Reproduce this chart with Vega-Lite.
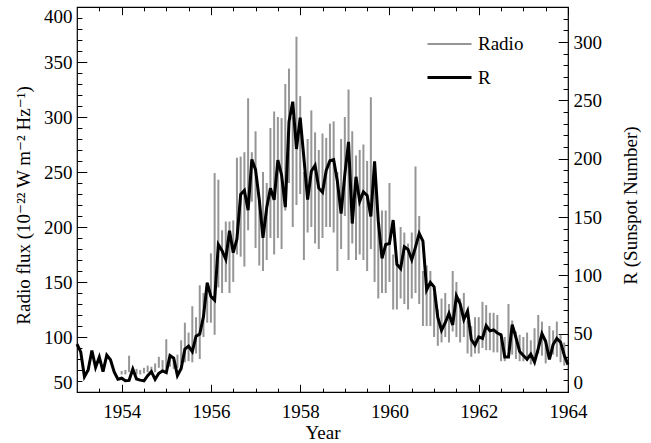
{
  "$schema": "https://vega.github.io/schema/vega-lite/v6.json",
  "width": 491,
  "height": 385,
  "autosize": {"type": "none"},
  "padding": {"left": 77, "top": 7, "right": 83, "bottom": 51},
  "background": "white",
  "config": {
    "view": {"stroke": "#000", "strokeWidth": 1.2},
    "font": "Liberation Serif, DejaVu Serif, serif",
    "axis": {
      "labelFont": "Liberation Serif, DejaVu Serif, serif", "titleFont": "Liberation Serif, DejaVu Serif, serif",
      "labelFontSize": 19, "titleFontSize": 19, "titleFontWeight": "normal",
      "labelColor": "#000", "titleColor": "#000", "tickColor": "#000", "tickWidth": 1,
      "grid": false, "domain": false, "labelFlush": false, "labelOverlap": false
    },
    "legend": {
      "orient": "none", "legendX": 349, "legendY": 14,
      "symbolType": "stroke", "symbolSize": 1936,
      "labelFont": "Liberation Serif, DejaVu Serif, serif", "labelFontSize": 19, "labelColor": "#000",
      "labelOffset": 5, "rowPadding": -8, "padding": 0
    }
  },
  "datasets": {
    "radio": [
      {"t": 1954.0, "lo": 66, "hi": 69}, {"t": 1954.0833, "lo": 66, "hi": 70}, {"t": 1954.1667, "lo": 68, "hi": 83}, {"t": 1954.25, "lo": 67, "hi": 71},
      {"t": 1954.3333, "lo": 66, "hi": 71}, {"t": 1954.4167, "lo": 66, "hi": 70}, {"t": 1954.5, "lo": 67, "hi": 72}, {"t": 1954.5833, "lo": 68, "hi": 74},
      {"t": 1954.6667, "lo": 67, "hi": 73}, {"t": 1954.75, "lo": 68, "hi": 76}, {"t": 1954.8333, "lo": 72, "hi": 82}, {"t": 1954.9167, "lo": 70, "hi": 79},
      {"t": 1955.0, "lo": 72, "hi": 98}, {"t": 1955.0833, "lo": 73, "hi": 84}, {"t": 1955.1667, "lo": 71, "hi": 80}, {"t": 1955.25, "lo": 72, "hi": 84},
      {"t": 1955.3333, "lo": 76, "hi": 97}, {"t": 1955.4167, "lo": 77, "hi": 113}, {"t": 1955.5, "lo": 78, "hi": 104}, {"t": 1955.5833, "lo": 77, "hi": 128},
      {"t": 1955.6667, "lo": 85, "hi": 118}, {"t": 1955.75, "lo": 80, "hi": 147}, {"t": 1955.8333, "lo": 100, "hi": 140}, {"t": 1955.9167, "lo": 113, "hi": 150},
      {"t": 1956.0, "lo": 113, "hi": 176}, {"t": 1956.0833, "lo": 102, "hi": 249}, {"t": 1956.1667, "lo": 145, "hi": 243}, {"t": 1956.25, "lo": 140, "hi": 197},
      {"t": 1956.3333, "lo": 150, "hi": 205}, {"t": 1956.4167, "lo": 140, "hi": 205}, {"t": 1956.5, "lo": 150, "hi": 206}, {"t": 1956.5833, "lo": 175, "hi": 263},
      {"t": 1956.6667, "lo": 173, "hi": 264}, {"t": 1956.75, "lo": 164, "hi": 268}, {"t": 1956.8333, "lo": 197, "hi": 317}, {"t": 1956.9167, "lo": 223, "hi": 268},
      {"t": 1957.0, "lo": 181, "hi": 287}, {"t": 1957.0833, "lo": 165, "hi": 225}, {"t": 1957.1667, "lo": 160, "hi": 250}, {"t": 1957.25, "lo": 170, "hi": 240},
      {"t": 1957.3333, "lo": 190, "hi": 290}, {"t": 1957.4167, "lo": 175, "hi": 305}, {"t": 1957.5, "lo": 190, "hi": 300}, {"t": 1957.5833, "lo": 180, "hi": 299},
      {"t": 1957.6667, "lo": 215, "hi": 330}, {"t": 1957.75, "lo": 240, "hi": 344}, {"t": 1957.8333, "lo": 200, "hi": 300}, {"t": 1957.9167, "lo": 220, "hi": 373},
      {"t": 1958.0, "lo": 230, "hi": 319}, {"t": 1958.0833, "lo": 170, "hi": 250}, {"t": 1958.1667, "lo": 195, "hi": 280}, {"t": 1958.25, "lo": 200, "hi": 306},
      {"t": 1958.3333, "lo": 185, "hi": 286}, {"t": 1958.4167, "lo": 180, "hi": 270}, {"t": 1958.5, "lo": 190, "hi": 285}, {"t": 1958.5833, "lo": 200, "hi": 281},
      {"t": 1958.6667, "lo": 200, "hi": 294}, {"t": 1958.75, "lo": 195, "hi": 296}, {"t": 1958.8333, "lo": 160, "hi": 250}, {"t": 1958.9167, "lo": 180, "hi": 280},
      {"t": 1959.0, "lo": 210, "hi": 300}, {"t": 1959.0833, "lo": 170, "hi": 325}, {"t": 1959.1667, "lo": 185, "hi": 287}, {"t": 1959.25, "lo": 170, "hi": 265},
      {"t": 1959.3333, "lo": 175, "hi": 270}, {"t": 1959.4167, "lo": 170, "hi": 275}, {"t": 1959.5, "lo": 160, "hi": 260}, {"t": 1959.5833, "lo": 180, "hi": 318},
      {"t": 1959.6667, "lo": 150, "hi": 240}, {"t": 1959.75, "lo": 135, "hi": 205}, {"t": 1959.8333, "lo": 140, "hi": 215}, {"t": 1959.9167, "lo": 140, "hi": 215},
      {"t": 1960.0, "lo": 150, "hi": 240}, {"t": 1960.0833, "lo": 125, "hi": 175}, {"t": 1960.1667, "lo": 125, "hi": 170}, {"t": 1960.25, "lo": 135, "hi": 200},
      {"t": 1960.3333, "lo": 130, "hi": 195}, {"t": 1960.4167, "lo": 125, "hi": 185}, {"t": 1960.5, "lo": 135, "hi": 195}, {"t": 1960.5833, "lo": 140, "hi": 255},
      {"t": 1960.6667, "lo": 130, "hi": 210}, {"t": 1960.75, "lo": 110, "hi": 160}, {"t": 1960.8333, "lo": 110, "hi": 165}, {"t": 1960.9167, "lo": 110, "hi": 160},
      {"t": 1961.0, "lo": 100, "hi": 140}, {"t": 1961.0833, "lo": 92, "hi": 125}, {"t": 1961.1667, "lo": 95, "hi": 135}, {"t": 1961.25, "lo": 100, "hi": 140},
      {"t": 1961.3333, "lo": 95, "hi": 130}, {"t": 1961.4167, "lo": 105, "hi": 160}, {"t": 1961.5, "lo": 100, "hi": 150}, {"t": 1961.5833, "lo": 95, "hi": 135},
      {"t": 1961.6667, "lo": 100, "hi": 140}, {"t": 1961.75, "lo": 85, "hi": 115}, {"t": 1961.8333, "lo": 82, "hi": 110}, {"t": 1961.9167, "lo": 85, "hi": 118},
      {"t": 1962.0, "lo": 85, "hi": 118}, {"t": 1962.0833, "lo": 90, "hi": 132}, {"t": 1962.1667, "lo": 88, "hi": 129}, {"t": 1962.25, "lo": 88, "hi": 122},
      {"t": 1962.3333, "lo": 86, "hi": 122}, {"t": 1962.4167, "lo": 86, "hi": 120}, {"t": 1962.5, "lo": 78, "hi": 100}, {"t": 1962.5833, "lo": 78, "hi": 100},
      {"t": 1962.6667, "lo": 88, "hi": 130}, {"t": 1962.75, "lo": 84, "hi": 115}, {"t": 1962.8333, "lo": 80, "hi": 105}, {"t": 1962.9167, "lo": 78, "hi": 102},
      {"t": 1963.0, "lo": 78, "hi": 100}, {"t": 1963.0833, "lo": 78, "hi": 104}, {"t": 1963.1667, "lo": 75, "hi": 97}, {"t": 1963.25, "lo": 80, "hi": 108},
      {"t": 1963.3333, "lo": 85, "hi": 120}, {"t": 1963.4167, "lo": 83, "hi": 114}, {"t": 1963.5, "lo": 76, "hi": 98}, {"t": 1963.5833, "lo": 80, "hi": 110},
      {"t": 1963.6667, "lo": 84, "hi": 106}, {"t": 1963.75, "lo": 82, "hi": 114}, {"t": 1963.8333, "lo": 77, "hi": 102}, {"t": 1963.9167, "lo": 74, "hi": 95}
    ],
    "sunspot": [
      {"t": 1953.0, "R": 41.1},
      {"t": 1953.0833, "R": 34.4}, {"t": 1953.1667, "R": 13.1}, {"t": 1953.25, "R": 18.9}, {"t": 1953.3333, "R": 35.6}, {"t": 1953.4167, "R": 21.2}, {"t": 1953.5, "R": 30.0},
      {"t": 1953.5833, "R": 17.5}, {"t": 1953.6667, "R": 31.6}, {"t": 1953.75, "R": 27.6}, {"t": 1953.8333, "R": 17.2}, {"t": 1953.9167, "R": 10.9}, {"t": 1954.0, "R": 11.8},
      {"t": 1954.0833, "R": 9.6}, {"t": 1954.1667, "R": 9.9}, {"t": 1954.25, "R": 19.7}, {"t": 1954.3333, "R": 11.1}, {"t": 1954.4167, "R": 10.2}, {"t": 1954.5, "R": 9.6},
      {"t": 1954.5833, "R": 14.0}, {"t": 1954.6667, "R": 17.4}, {"t": 1954.75, "R": 10.8}, {"t": 1954.8333, "R": 16.0}, {"t": 1954.9167, "R": 18.1}, {"t": 1955.0, "R": 16.6},
      {"t": 1955.0833, "R": 31.2}, {"t": 1955.1667, "R": 29.0}, {"t": 1955.25, "R": 14.1}, {"t": 1955.3333, "R": 20.1}, {"t": 1955.4167, "R": 36.7}, {"t": 1955.5, "R": 39.3},
      {"t": 1955.5833, "R": 34.6}, {"t": 1955.6667, "R": 47.8}, {"t": 1955.75, "R": 49.7}, {"t": 1955.8333, "R": 64.6}, {"t": 1955.9167, "R": 93.5}, {"t": 1956.0, "R": 81.9},
      {"t": 1956.0833, "R": 78.8}, {"t": 1956.1667, "R": 126.4}, {"t": 1956.25, "R": 121.1}, {"t": 1956.3333, "R": 113.8}, {"t": 1956.4167, "R": 138.2}, {"t": 1956.5, "R": 119.4},
      {"t": 1956.5833, "R": 131.2}, {"t": 1956.6667, "R": 169.4}, {"t": 1956.75, "R": 172.8}, {"t": 1956.8333, "R": 155.9}, {"t": 1956.9167, "R": 199.3}, {"t": 1957.0, "R": 190.6},
      {"t": 1957.0833, "R": 165.0}, {"t": 1957.1667, "R": 132.2}, {"t": 1957.25, "R": 157.9}, {"t": 1957.3333, "R": 174.6}, {"t": 1957.4167, "R": 164.7}, {"t": 1957.5, "R": 198.7},
      {"t": 1957.5833, "R": 186.0}, {"t": 1957.6667, "R": 158.4}, {"t": 1957.75, "R": 231.8}, {"t": 1957.8333, "R": 248.8}, {"t": 1957.9167, "R": 208.3}, {"t": 1958.0, "R": 235.2},
      {"t": 1958.0833, "R": 200.4}, {"t": 1958.1667, "R": 164.9}, {"t": 1958.25, "R": 189.3}, {"t": 1958.3333, "R": 194.3}, {"t": 1958.4167, "R": 174.7}, {"t": 1958.5, "R": 171.2},
      {"t": 1958.5833, "R": 189.9}, {"t": 1958.6667, "R": 198.2}, {"t": 1958.75, "R": 199.2}, {"t": 1958.8333, "R": 180.6}, {"t": 1958.9167, "R": 153.0}, {"t": 1959.0, "R": 186.3},
      {"t": 1959.0833, "R": 214.4}, {"t": 1959.1667, "R": 144.4}, {"t": 1959.25, "R": 184.5}, {"t": 1959.3333, "R": 163.4}, {"t": 1959.4167, "R": 171.6}, {"t": 1959.5, "R": 168.5},
      {"t": 1959.5833, "R": 150.5}, {"t": 1959.6667, "R": 197.7}, {"t": 1959.75, "R": 146.4}, {"t": 1959.8333, "R": 114.5}, {"t": 1959.9167, "R": 126.4}, {"t": 1960.0, "R": 127.3},
      {"t": 1960.0833, "R": 147.4}, {"t": 1960.1667, "R": 109.4}, {"t": 1960.25, "R": 105.8}, {"t": 1960.3333, "R": 124.5}, {"t": 1960.4167, "R": 122.2}, {"t": 1960.5, "R": 113.4},
      {"t": 1960.5833, "R": 124.2}, {"t": 1960.6667, "R": 135.9}, {"t": 1960.75, "R": 129.4}, {"t": 1960.8333, "R": 87.5}, {"t": 1960.9167, "R": 93.9}, {"t": 1961.0, "R": 90.2},
      {"t": 1961.0833, "R": 64.0}, {"t": 1961.1667, "R": 52.9}, {"t": 1961.25, "R": 59.4}, {"t": 1961.3333, "R": 67.3}, {"t": 1961.4167, "R": 57.5}, {"t": 1961.5, "R": 82.4},
      {"t": 1961.5833, "R": 75.6}, {"t": 1961.6667, "R": 62.1}, {"t": 1961.75, "R": 69.4}, {"t": 1961.8333, "R": 45.0}, {"t": 1961.9167, "R": 40.2}, {"t": 1962.0, "R": 47.2},
      {"t": 1962.0833, "R": 45.9}, {"t": 1962.1667, "R": 56.9}, {"t": 1962.25, "R": 52.4}, {"t": 1962.3333, "R": 53.2}, {"t": 1962.4167, "R": 50.6}, {"t": 1962.5, "R": 49.0},
      {"t": 1962.5833, "R": 30.0}, {"t": 1962.6667, "R": 30.0}, {"t": 1962.75, "R": 57.8}, {"t": 1962.8333, "R": 46.7}, {"t": 1962.9167, "R": 34.8}, {"t": 1963.0, "R": 31.3},
      {"t": 1963.0833, "R": 28.1}, {"t": 1963.1667, "R": 32.4}, {"t": 1963.25, "R": 25.6}, {"t": 1963.3333, "R": 37.1}, {"t": 1963.4167, "R": 50.0}, {"t": 1963.5, "R": 43.3},
      {"t": 1963.5833, "R": 27.9}, {"t": 1963.6667, "R": 40.7}, {"t": 1963.75, "R": 46.0}, {"t": 1963.8333, "R": 42.7}, {"t": 1963.9167, "R": 31.5}, {"t": 1964.0, "R": 23.5}
    ]
  },
  "layer": [
    {
      "data": {"name": "radio"},
      "mark": {"type": "rule"},
      "encoding": {
        "x": {"field": "t", "type": "quantitative",
              "scale": {"domain": [1953, 1964], "nice": false, "zero": false},
              "axis": {"orient": "bottom", "values": [1954, 1956, 1958, 1960, 1962, 1964], "format": "d",
                       "labelFont": "Liberation Serif, DejaVu Serif, serif", "titleFont": "Liberation Serif, DejaVu Serif, serif",
                       "ticks": false, "labelPadding": 10, "title": "Year",
                       "titleX": 245.5, "titleY": 40, "titleBaseline": "middle"}},
        "y": {"field": "lo", "type": "quantitative",
              "scale": {"domain": [50, 400], "nice": false, "zero": false},
              "axis": {"orient": "left", "values": [50, 100, 150, 200, 250, 300, 350, 400],
                       "labelFont": "Liberation Serif, DejaVu Serif, serif", "titleFont": "Liberation Serif, DejaVu Serif, serif",
                       "ticks": false, "labelPadding": 5, "labelFlush": true,
                       "title": "Radio flux (10⁻²² W m⁻² Hz⁻¹)",
                       "titleAngle": -90, "titleX": -54, "titleY": 198, "titleBaseline": "middle", "titleAlign": "center"}},
        "y2": {"field": "hi"},
        "color": {"datum": "Radio", "type": "nominal",
                  "scale": {"domain": ["Radio", "R"], "range": ["#969696", "#000000"]},
                  "legend": {"title": null, "labelFont": "Liberation Serif, DejaVu Serif, serif"}},
        "strokeWidth": {"datum": "Radio", "type": "nominal",
                        "scale": {"type": "point", "domain": ["Radio", "R"], "range": [2, 3]},
                        "legend": {"title": null}}
      }
    },
    {
      "data": {"name": "sunspot"},
      "mark": {"type": "line"},
      "encoding": {
        "x": {"field": "t", "type": "quantitative",
              "scale": {"domain": [1953, 1964], "nice": false, "zero": false},
              "axis": {"orient": "bottom", "values": [1954, 1956, 1958, 1960, 1962, 1964],
                       "labels": false, "tickSize": -7.7, "title": null}},
        "y": {"field": "R", "type": "quantitative",
              "scale": {"domain": [0, 330], "nice": false, "zero": false},
              "axis": {"orient": "right", "values": [0, 50, 100, 150, 200, 250, 300],
                       "labelFont": "Liberation Serif, DejaVu Serif, serif", "titleFont": "Liberation Serif, DejaVu Serif, serif",
                       "ticks": false, "labelPadding": 5, "labelFlush": true, "title": "R (Sunspot Number)",
                       "titleAngle": -90, "titleX": 62, "titleY": 198, "titleBaseline": "middle", "titleAlign": "center"}},
        "color": {"datum": "R", "type": "nominal"},
        "strokeWidth": {"datum": "R", "type": "nominal"}
      }
    },
    {
      "data": {"name": "radio"},
      "mark": {"type": "rule", "opacity": 0},
      "encoding": {
        "x": {"field": "t", "type": "quantitative",
              "scale": {"domain": [1953, 1964], "nice": false, "zero": false},
              "axis": {"orient": "top", "values": [1954, 1956, 1958, 1960, 1962, 1964],
                       "labels": false, "tickSize": -7.7, "title": null}},
        "y": {"field": "lo", "type": "quantitative",
              "scale": {"domain": [50, 400], "nice": false, "zero": false},
              "axis": {"orient": "left", "values": [50, 100, 150, 200, 250, 300, 350, 400],
                       "labels": false, "tickSize": -9.8, "title": null}}
      }
    },
    {
      "data": {"name": "sunspot"},
      "mark": {"type": "rule", "opacity": 0},
      "encoding": {
        "x": {"field": "t", "type": "quantitative",
              "scale": {"domain": [1953, 1964], "nice": false, "zero": false},
              "axis": {"orient": "bottom",
                       "values": [1953.5, 1954.5, 1955, 1955.5, 1956.5, 1957, 1957.5, 1958.5, 1959, 1959.5, 1960.5, 1961, 1961.5, 1962.5, 1963, 1963.5],
                       "labels": false, "tickSize": -3.85, "title": null}},
        "y": {"field": "R", "type": "quantitative",
              "scale": {"domain": [0, 330], "nice": false, "zero": false},
              "axis": {"orient": "right", "values": [0, 50, 100, 150, 200, 250, 300],
                       "labels": false, "tickSize": -9.8, "title": null}}
      }
    },
    {
      "data": {"name": "radio"},
      "mark": {"type": "rule", "opacity": 0},
      "encoding": {
        "x": {"field": "t", "type": "quantitative",
              "scale": {"domain": [1953, 1964], "nice": false, "zero": false},
              "axis": {"orient": "top",
                       "values": [1953.5, 1954.5, 1955, 1955.5, 1956.5, 1957, 1957.5, 1958.5, 1959, 1959.5, 1960.5, 1961, 1961.5, 1962.5, 1963, 1963.5],
                       "labels": false, "tickSize": -3.85, "title": null}},
        "y": {"field": "lo", "type": "quantitative",
              "scale": {"domain": [50, 400], "nice": false, "zero": false},
              "axis": {"orient": "left",
                       "values": [60, 70, 80, 90, 110, 120, 130, 140, 160, 170, 180, 190, 210, 220, 230, 240, 260, 270, 280, 290, 310, 320, 330, 340, 360, 370, 380, 390],
                       "labels": false, "tickSize": -4.9, "title": null}}
      }
    },
    {
      "data": {"name": "sunspot"},
      "mark": {"type": "rule", "opacity": 0},
      "encoding": {
        "x": {"field": "t", "type": "quantitative",
              "scale": {"domain": [1953, 1964], "nice": false, "zero": false},
              "axis": null},
        "y": {"field": "R", "type": "quantitative",
              "scale": {"domain": [0, 330], "nice": false, "zero": false},
              "axis": {"orient": "right",
                       "values": [10, 20, 30, 40, 60, 70, 80, 90, 110, 120, 130, 140, 160, 170, 180, 190, 210, 220, 230, 240, 260, 270, 280, 290, 310, 320],
                       "labels": false, "tickSize": -4.9, "title": null}}
      }
    }
  ],
  "resolve": {"scale": {"y": "independent"}, "axis": {"x": "independent", "y": "independent"}}
}
